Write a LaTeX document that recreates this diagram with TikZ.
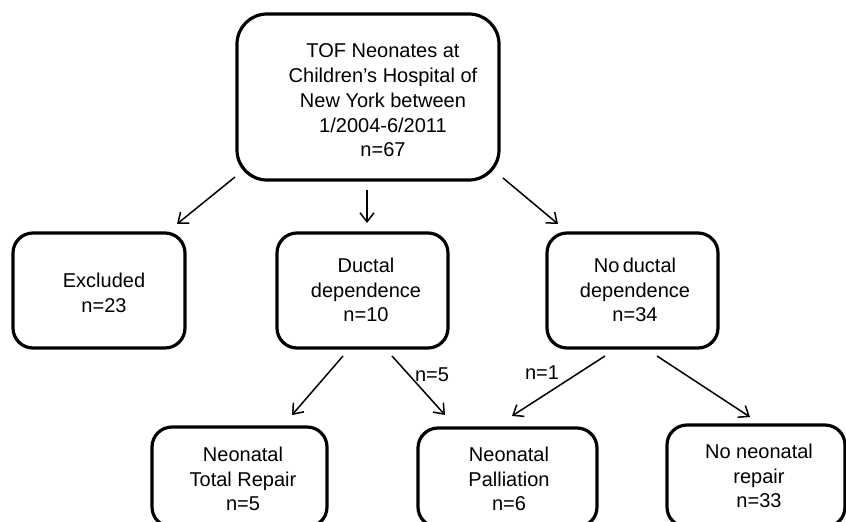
\documentclass[tikz,border=0pt]{standalone}
\usepackage{fontspec}
\setmainfont{Liberation Sans}
\usetikzlibrary{arrows.meta}
\begin{document}
\begin{tikzpicture}[x=1pt,y=-1pt,
  box/.style={draw=black, line width=3.2pt, rounded corners=20pt, inner sep=0pt},
  txt/.style={inner sep=0pt, align=center, font=\fontsize{20}{24.7}\selectfont},
  arr/.style={line width=1.5pt, -{Straight Barb[length=9pt,width=14pt,line width=1.5pt]}}]
\useasboundingbox (0,0) rectangle (846,522);
\begin{scope}
\clip (0,0) rectangle (846,522);
% boxes
\node[box, rounded corners=30pt, minimum width=262pt, minimum height=166pt] (top) at (368,97) {};
\node[box, minimum width=172pt, minimum height=115pt] (excl) at (99,290.5) {};
\node[box, minimum width=171pt, minimum height=115pt] (duct) at (362.5,290.5) {};
\node[box, minimum width=171pt, minimum height=115pt] (nod) at (632.5,290.5) {};
\node[box, minimum width=175pt, minimum height=100pt] (tot) at (239.5,477) {};
\node[box, minimum width=179pt, minimum height=99pt] (pal) at (507.5,477.5) {};
\node[box, minimum width=178pt, minimum height=102pt] (non) at (756,476) {};
\end{scope}
% texts
\node[txt] (topT) at (383,100.5) {TOF Neonates at\\Children’s Hospital of\\New York between\\1/2004-6/2011\\n=67};
\node[txt] (exclT) at (104,293) {Excluded\\n=23};
\node[txt] (ductT) at (366,290) {Ductal\\dependence\\n=10};
\node[txt] (nodT) at (635,290) {No\,ductal\\dependence\\n=34};
\node[txt] (totT) at (243,479) {Neonatal\\Total Repair\\n=5};
\node[txt] (palT) at (509,479) {Neonatal\\Palliation\\n=6};
\node[txt] (nonT) at (759,476) {No neonatal\\repair\\n=33};
% arrow end points
\coordinate (a1s) at (235,177); \coordinate (a1e) at (177,224);
\coordinate (a2s) at (367,190); \coordinate (a2e) at (367,223);
\coordinate (a3s) at (503,178); \coordinate (a3e) at (558,224);
\coordinate (a4s) at (343,356); \coordinate (a4e) at (292,415);
\coordinate (a5s) at (392,356); \coordinate (a5e) at (445,415);
\coordinate (a6s) at (605,356); \coordinate (a6e) at (512,416);
\coordinate (a7s) at (657,356); \coordinate (a7e) at (750,417);
\draw[arr] (a1s) -- (a1e);
\draw[arr] (a2s) -- (a2e);
\draw[arr] (a3s) -- (a3e);
\draw[arr] (a4s) -- (a4e);
\draw[arr] (a5s) -- (a5e);
\draw[arr] (a6s) -- (a6e);
\draw[arr] (a7s) -- (a7e);
% labels
\node[txt] (l5) at (432,375) {n=5};
\node[txt] (l1) at (542,373) {n=1};
\end{tikzpicture}
\end{document}
